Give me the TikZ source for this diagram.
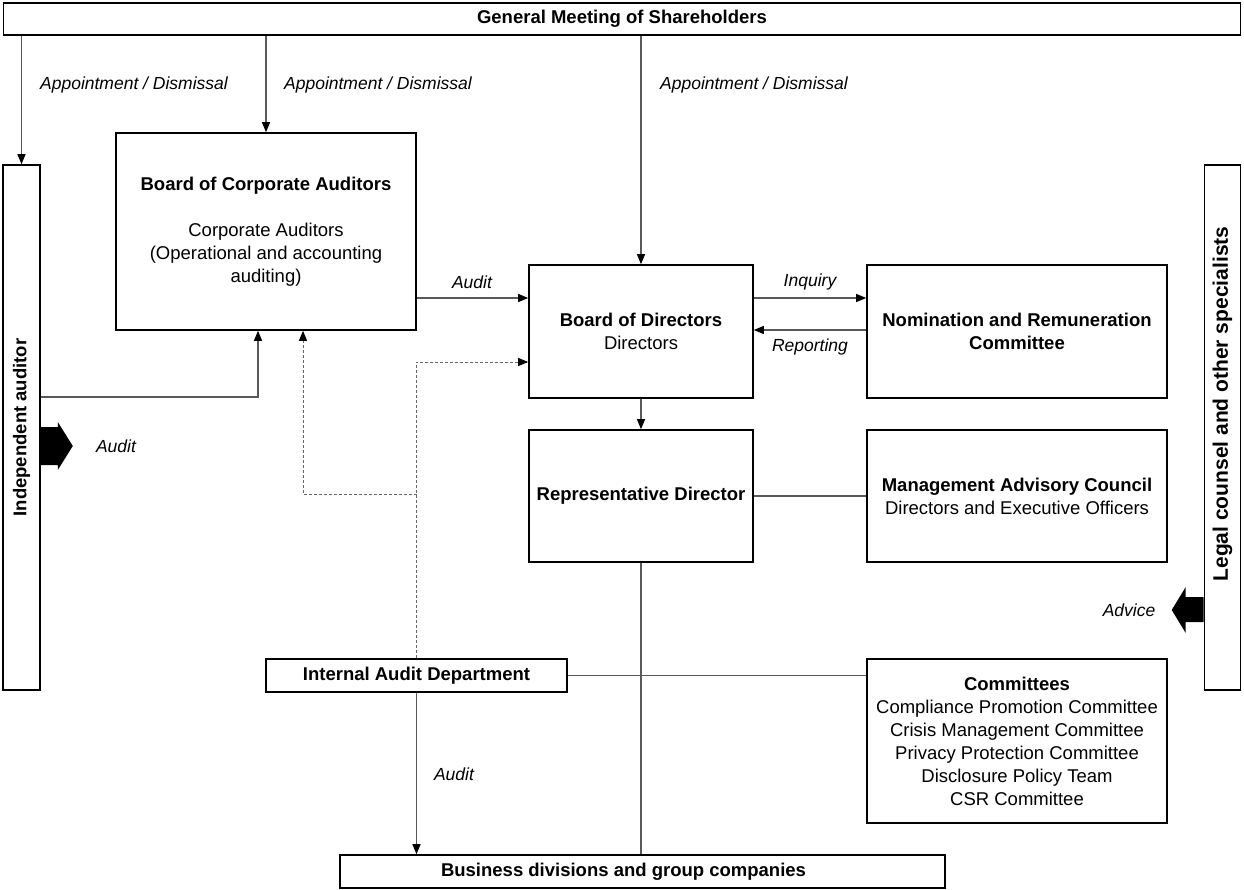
\documentclass[tikz,border=0pt]{standalone}
\usepackage{fontspec}
\setmainfont{Liberation Sans}
\usetikzlibrary{arrows.meta,calc}
\begin{document}
\begin{tikzpicture}[x=1pt,y=-1pt,
  box/.style={draw=black, line width=1.6pt, inner sep=0pt, align=center, font=\fontsize{18.5}{23}\selectfont},
  conn/.style={draw=black!65, line width=1.1pt},
  tipend/.style={-{Triangle[length=10pt,width=8pt,black]}},
  arr/.style={conn, tipend},
  dsh/.style={draw=black!60, line width=1pt, dash pattern=on 3pt off 2pt, tipend},
  lbl/.style={font=\fontsize{17.5}{21}\selectfont\itshape, inner sep=0pt},
  vtext/.style={rotate=90, font=\fontsize{18.5}{23}\selectfont\bfseries, inner sep=0pt},
  fat/.style={fill=black}
]
\useasboundingbox (0,0) rectangle (1244,890);

% boxes
\node[box, minimum width=1237pt, minimum height=32pt] (gm) at (622,19) {\textbf{General Meeting of Shareholders}};
\node[box, minimum width=37pt, minimum height=525pt] (ia) at (21.5,427.5) {};
\node[vtext] (iat) at (ia.center) {Independent auditor};
\node[box, minimum width=36pt, minimum height=525pt] (lc) at (1222.5,427.5) {};
\node[vtext, font=\fontsize{21}{25}\selectfont\bfseries] (lct) at (1222.5,404) {Legal counsel and other specialists};
\node[box, minimum width=300pt, minimum height=197pt] (bca) at (266,231.5)
  {\textbf{Board of Corporate Auditors}\\[23pt]Corporate Auditors\\(Operational and accounting\\auditing)};
\node[box, minimum width=224pt, minimum height=133pt] (bod) at (641,331.5)
  {\textbf{Board of Directors}\\Directors};
\node[box, minimum width=300pt, minimum height=133pt] (nrc) at (1017,331.5)
  {\textbf{Nomination and Remuneration}\\\textbf{Committee}};
\node[box, minimum width=224pt, minimum height=132pt] (rd) at (641,496)
  {\textbf{Representative Director}};
\node[box, minimum width=300pt, minimum height=132pt] (mac) at (1017,496)
  {\textbf{Management Advisory Council}\\Directors and Executive Officers};
\node[box, minimum width=301pt, minimum height=33pt] (iad) at (416.5,675.5)
  {\textbf{Internal Audit Department}};
\node[box, minimum width=300pt, minimum height=164pt] (com) at (1017,741)
  {\textbf{Committees}\\Compliance Promotion Committee\\Crisis Management Committee\\Privacy Protection Committee\\Disclosure Policy Team\\CSR Committee};
\node[box, minimum width=605pt, minimum height=33pt] (bus) at (642.5,871.5)
  {\textbf{Business divisions and group companies}\hspace*{38pt}};

% helper coordinates
\coordinate (a1) at (0,298);
\coordinate (a2) at (0,330);
\coordinate (a3) at (0,362);
\coordinate (a4) at (303,494);
\coordinate (a5) at (258,397);

% connectors
\draw[arr] (gm.south -| ia.north) -- (ia.north);
\draw[arr] (gm.south -| bca.north) -- (bca.north);
\draw[arr] (gm.south -| bod.north) -- (bod.north);
\draw[arr] (bca.east |- a1) -- (bod.west |- a1);
\draw[arr] (bod.east |- a1) -- (nrc.west |- a1);
\draw[arr] (nrc.west |- a2) -- (bod.east |- a2);
\draw[arr] (bod.south) -- (rd.north);
\draw[conn] (rd.east) -- (mac.west);
\draw[conn] (rd.south) -- (rd.south |- bus.north);
\draw[conn] (iad.east) -- (iad.east -| com.west);
\draw[arr] (iad.south) -- (iad.south |- bus.north);
\draw[dsh] (iad.north) -- (iad.north |- a3) -- (bod.west |- a3);
\draw[dsh] (iad.north |- a4) -- (a4) -- (a4 |- bca.south);
\draw[arr] (ia.east |- a5) -- (a5) -- (a5 |- bca.south);

% thick arrows
\fill[fat] (ia.east |- 0,427) -- ++(17,0) -- ++(0,-5) -- ++(15,24) -- ++(-15,24) -- ++(0,-5) -- ++(-17,0) -- cycle;
\fill[fat] (lc.west |- 0,597) -- ++(-18,0) -- ++(0,-10) -- ++(-14,23) -- ++(14,23) -- ++(0,-11) -- ++(18,0) -- cycle;

% labels
\node[lbl] (l1) at (134,85) {Appointment / Dismissal};
\node[lbl] (l2) at (378,85) {Appointment / Dismissal};
\node[lbl] (l3) at (754,85) {Appointment / Dismissal};
\node[lbl] (l4) at (472,282) {Audit};
\node[lbl] (l5) at (810,282) {Inquiry};
\node[lbl] (l6) at (810,347) {Reporting};
\node[lbl] (l7) at (116,446) {Audit};
\node[lbl] (l8) at (1129,610) {Advice};
\node[lbl] (l9) at (454,774) {Audit};
\end{tikzpicture}
\end{document}
